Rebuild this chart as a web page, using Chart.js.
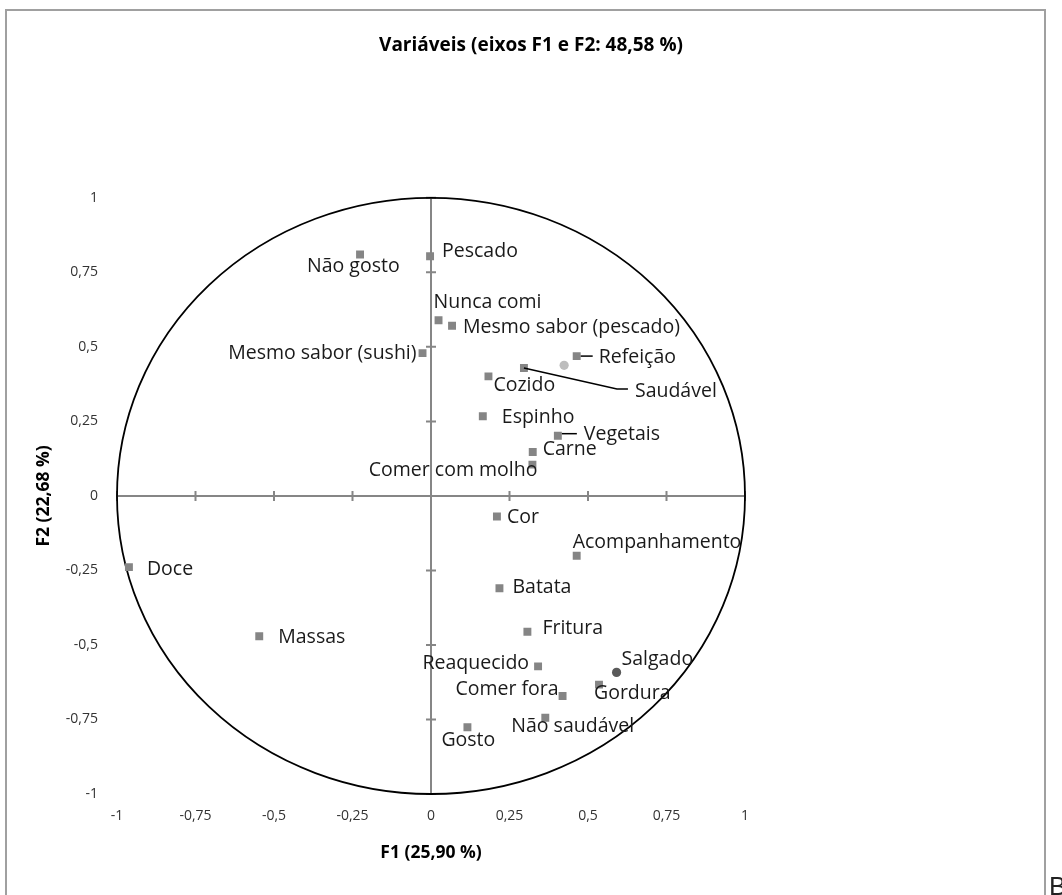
<!DOCTYPE html>
<html>
<head>
<meta charset="utf-8">
<script src="https://cdn.jsdelivr.net/npm/chart.js@4.4.1/dist/chart.umd.min.js"></script>
<style>
  html, body { margin: 0; padding: 0; background: #fff; overflow: hidden; }
  #wrap { position: relative; width: 1062px; height: 895px; }
  #frame { position: absolute; left: 5px; top: 9px; width: 1037px; height: 900px;
           border: 2px solid #a0a0a0; pointer-events: none; }
  #corner { position: absolute; left: 1049px; top: 873px; font: 26px "Liberation Sans", Arial, sans-serif;
            line-height: 1; color: #222; }
</style>
</head>
<body>
<div id="wrap">
  <canvas id="c" width="1062" height="895"></canvas>
  <div id="frame"></div>
  <div id="corner">B</div>
</div>
<script>
// Variable loadings on the first two factors (correlation circle)
const variables = [
  'Não gosto', 'Pescado', 'Nunca comi', 'Mesmo sabor (pescado)', 'Mesmo sabor (sushi)',
  'Refeição', 'Saudável', 'Cozido', 'Espinho', 'Vegetais', 'Carne', 'Comer com molho',
  'Cor', 'Acompanhamento', 'Doce', 'Batata', 'Fritura', 'Massas', 'Reaquecido',
  'Salgado', 'Gordura', 'Comer fora', 'Não saudável', 'Gosto'
];
const f1 = [
  -0.226, -0.003, 0.024, 0.067, -0.027,
  0.464, 0.296, 0.183, 0.165, 0.404, 0.324, 0.323,
  0.210, 0.464, -0.962, 0.218, 0.307, -0.547, 0.341,
  0.591, 0.535, 0.419, 0.364, 0.116
];
const f2 = [
  0.810, 0.804, 0.589, 0.571, 0.479,
  0.469, 0.429, 0.401, 0.267, 0.202, 0.147, 0.105,
  -0.069, -0.201, -0.239, -0.310, -0.456, -0.471, -0.572,
  -0.592, -0.633, -0.671, -0.744, -0.776
];
// Variables drawn with a dark round marker instead of a square
const highlighted = ['Salgado'];
// Unlabelled supplementary point
const extraF1 = [0.424];
const extraF2 = [0.438];

const axisTicks = [-1, -0.75, -0.5, -0.25, 0, 0.25, 0.5, 0.75, 1];
const titleText = 'Variáveis (eixos F1 e F2: 48,58 %)';
const xTitle = 'F1 (25,90 %)';
const yTitle = 'F2 (22,68 %)';

// Label placement relative to each marker (pixels): offset, anchor side, optional leader line
const labelLayout = {
  'Não gosto':             { dx: -53, dy: 12, align: 'left' },
  'Pescado':               { dx: 12, dy: -5, align: 'left' },
  'Nunca comi':            { dx: -5, dy: -18, align: 'left' },
  'Mesmo sabor (pescado)': { dx: 11, dy: 2, align: 'left' },
  'Mesmo sabor (sushi)':   { dx: -6, dy: 0, align: 'right' },
  'Refeição':              { dx: 22, dy: 1, align: 'left', leader: [[4, 0], [16, 0]] },
  'Saudável':              { dx: 111, dy: 23, align: 'left', leader: [[0, 0], [93, 21], [104, 21]] },
  'Cozido':                { dx: 5, dy: 9, align: 'left' },
  'Espinho':               { dx: 19, dy: 1, align: 'left' },
  'Vegetais':              { dx: 26, dy: -1, align: 'left', leader: [[4, -2], [19, -2]] },
  'Carne':                 { dx: 10, dy: -3, align: 'left' },
  'Comer com molho':       { dx: 5, dy: 6, align: 'right' },
  'Cor':                   { dx: 10, dy: 1, align: 'left' },
  'Acompanhamento':        { dx: -4, dy: -13, align: 'left' },
  'Doce':                  { dx: 18, dy: 2, align: 'left' },
  'Batata':                { dx: 13, dy: -1, align: 'left' },
  'Fritura':               { dx: 15, dy: -3, align: 'left' },
  'Massas':                { dx: 19, dy: 1, align: 'left' },
  'Reaquecido':            { dx: -9, dy: -3, align: 'right' },
  'Salgado':               { dx: 5, dy: -13, align: 'left' },
  'Gordura':               { dx: -5, dy: 9, align: 'left' },
  'Comer fora':            { dx: -4, dy: -6, align: 'right' },
  'Não saudável':          { dx: -34, dy: 9, align: 'left' },
  'Gosto':                 { dx: -26, dy: 13, align: 'left' }
};

const fmt = v => String(v).replace('.', ',');
const FONT = '"Open Sans", "Noto Sans", sans-serif';

// Unit circle and the two centred axes with cross ticks
const circlePlugin = {
  id: 'circleAxes',
  beforeDatasetsDraw(chart) {
    const { ctx, scales: { x, y } } = chart;
    const cx = x.getPixelForValue(0), cy = y.getPixelForValue(0);
    const rx = x.getPixelForValue(1) - cx, ry = cy - y.getPixelForValue(1);
    ctx.save();
    ctx.strokeStyle = '#868686';
    ctx.lineWidth = 2;
    ctx.beginPath();
    ctx.moveTo(x.getPixelForValue(-1), cy); ctx.lineTo(x.getPixelForValue(1), cy);
    ctx.moveTo(cx, y.getPixelForValue(-1)); ctx.lineTo(cx, y.getPixelForValue(1));
    axisTicks.forEach(v => {
      if (v === 0) return;
      const px = x.getPixelForValue(v), py = y.getPixelForValue(v);
      ctx.moveTo(px, cy - 5); ctx.lineTo(px, cy + 5);
      ctx.moveTo(cx - 5, py); ctx.lineTo(cx + 5, py);
    });
    ctx.stroke();
    ctx.strokeStyle = '#000';
    ctx.lineWidth = 1.8;
    ctx.beginPath();
    ctx.ellipse(cx, cy, rx, ry, 0, 0, Math.PI * 2);
    ctx.stroke();
    ctx.restore();
  }
};

// Variable names next to their markers
const labelPlugin = {
  id: 'varLabels',
  afterDatasetsDraw(chart) {
    const { ctx } = chart;
    const meta = chart.getDatasetMeta(0);
    ctx.save();
    ctx.font = '19.5px ' + FONT;
    ctx.fillStyle = '#1a1a1a';
    ctx.strokeStyle = '#000';
    ctx.lineWidth = 1.5;
    ctx.textBaseline = 'middle';
    meta.data.forEach((pt, i) => {
      const name = variables[i];
      const lay = labelLayout[name] || { dx: 10, dy: 0, align: 'left' };
      if (lay.leader) {
        ctx.beginPath();
        lay.leader.forEach(([lx, ly], k) => {
          if (k === 0) ctx.moveTo(pt.x + lx, pt.y + ly); else ctx.lineTo(pt.x + lx, pt.y + ly);
        });
        ctx.stroke();
      }
      ctx.textAlign = lay.align;
      ctx.fillText(name, pt.x + lay.dx, pt.y + lay.dy);
    });
    ctx.restore();
  }
};

const tickFont = { family: FONT, size: 14 };
const axisTitleFont = { family: FONT, size: 17.5, weight: 'bold' };
const setTicks = s => { s.ticks = axisTicks.map(v => ({ value: v })); };

new Chart(document.getElementById('c'), {
  type: 'scatter',
  data: {
    datasets: [
      {
        label: 'Variáveis',
        data: variables.map((n, i) => ({ x: f1[i], y: f2[i] })),
        pointStyle: c => highlighted.includes(variables[c.dataIndex]) ? 'circle' : 'rect',
        pointRadius: c => highlighted.includes(variables[c.dataIndex]) ? 4.6 : 5.6,
        backgroundColor: c => highlighted.includes(variables[c.dataIndex]) ? '#5a5a5a' : '#858585',
        borderWidth: 0
      },
      {
        label: 'Suplementar',
        data: extraF1.map((v, i) => ({ x: v, y: extraF2[i] })),
        pointStyle: 'circle',
        pointRadius: 4.6,
        backgroundColor: '#bdbdbd',
        borderWidth: 0
      }
    ]
  },
  options: {
    responsive: false,
    animation: false,
    devicePixelRatio: 1,
    layout: { padding: 0 },
    plugins: {
      legend: { display: false },
      tooltip: { enabled: false },
      title: {
        display: true,
        text: titleText,
        color: '#000',
        font: { family: FONT, size: 19, weight: 'bold' },
        padding: { top: 34, bottom: 141 }
      }
    },
    scales: {
      x: {
        type: 'linear', min: -1, max: 1,
        afterBuildTicks: setTicks,
        afterFit: s => { s.height = 101; },
        ticks: { callback: fmt, font: tickFont, color: '#333', padding: 14, maxRotation: 0, autoSkip: false },
        grid: { display: false, drawTicks: false },
        border: { display: false },
        title: { display: true, text: xTitle, color: '#000', font: axisTitleFont,
                 padding: { top: 0, bottom: 31.5 } }
      },
      y: {
        type: 'linear', min: -1, max: 1,
        afterBuildTicks: setTicks,
        afterFit: s => { s.width = 117; },
        ticks: { callback: fmt, font: tickFont, color: '#333', padding: 19, autoSkip: false },
        grid: { display: false, drawTicks: false },
        border: { display: false },
        title: { display: true, text: yTitle, color: '#000', font: axisTitleFont,
                 padding: { top: 34, bottom: 0 } }
      },
      yRight: {
        type: 'linear', position: 'right', display: true,
        afterFit: s => { s.width = 317; },
        ticks: { display: false },
        grid: { display: false, drawTicks: false },
        border: { display: false }
      }
    }
  },
  plugins: [circlePlugin, labelPlugin]
});
</script>
</body>
</html>
